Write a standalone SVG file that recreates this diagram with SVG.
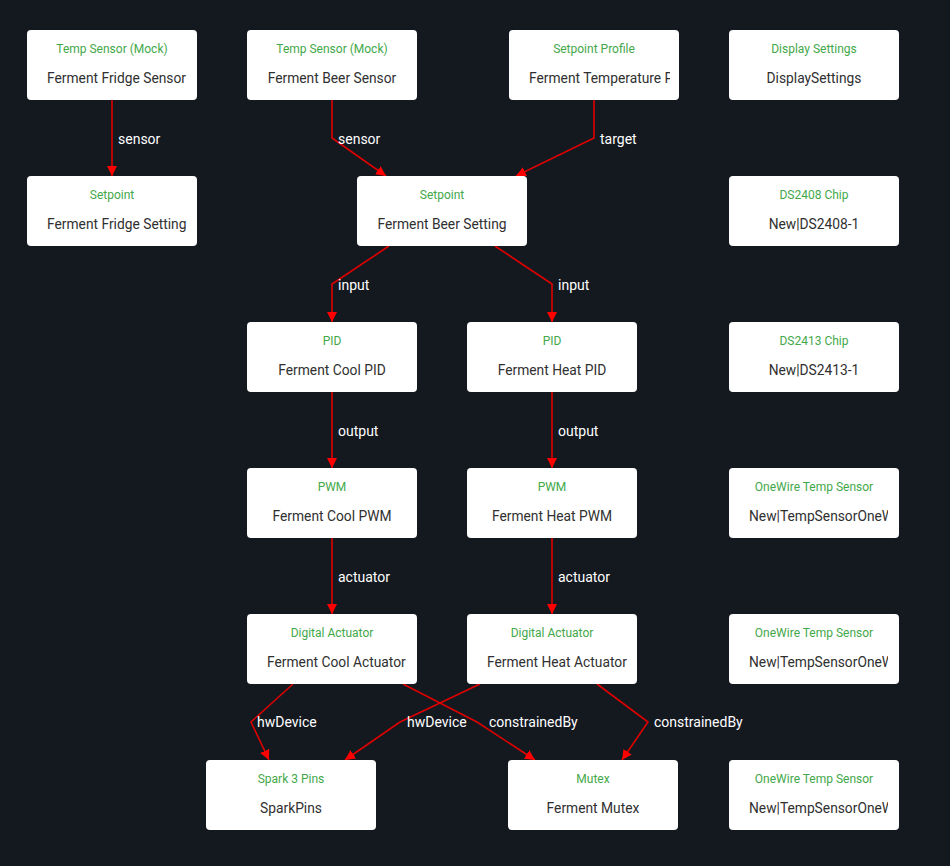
<svg xmlns="http://www.w3.org/2000/svg" width="950" height="866" viewBox="0 0 950 866">
<style>
.bg{fill:#14181f}
.box{fill:#ffffff}
.title{font-family:Roboto,"Liberation Sans",sans-serif;font-size:12px;fill:#43a84a;text-anchor:middle}
.name{font-family:Roboto,"Liberation Sans",sans-serif;font-size:13.8px;fill:#303030}
.c{text-anchor:middle}
.edge{fill:none;stroke:#dd0000;stroke-width:1.6}
.lbl{font-family:Roboto,"Liberation Sans",sans-serif;font-size:14px;fill:#ffffff}
</style>
<defs>
<marker id="arr" viewBox="0 0 10 10" refX="10" refY="5" markerWidth="10" markerHeight="10" markerUnits="userSpaceOnUse" orient="auto">
<path d="M0,0 L10,5 L0,10 z" fill="#ff0000"/>
</marker>
<clipPath id="clipProfile"><rect x="519" y="60" width="151" height="40"/></clipPath>
<clipPath id="clipOw1"><rect x="739" y="498" width="149" height="40"/></clipPath>
<clipPath id="clipOw2"><rect x="739" y="644" width="149" height="40"/></clipPath>
<clipPath id="clipOw3"><rect x="739" y="790" width="149" height="40"/></clipPath>
</defs>
<rect class="bg" x="0" y="0" width="950" height="866"/>

<g id="connectors">
<polyline class="edge" marker-end="url(#arr)" points="112,100 112,176"/>
<polyline class="edge" marker-end="url(#arr)" points="332,100 332,138 386,176"/>
<polyline class="edge" marker-end="url(#arr)" points="594,100 594,138 516,176"/>
<polyline class="edge" marker-end="url(#arr)" points="389,246 332,284 332,322"/>
<polyline class="edge" marker-end="url(#arr)" points="495,246 552,284 552,322"/>
<polyline class="edge" marker-end="url(#arr)" points="332,392 332,468"/>
<polyline class="edge" marker-end="url(#arr)" points="552,392 552,468"/>
<polyline class="edge" marker-end="url(#arr)" points="332,538 332,614"/>
<polyline class="edge" marker-end="url(#arr)" points="552,538 552,614"/>
<polyline class="edge" marker-end="url(#arr)" points="293,684 251,722 269,760"/>
<polyline class="edge" marker-end="url(#arr)" points="403,684 477,722 535,760"/>
<polyline class="edge" marker-end="url(#arr)" points="480,684 400,722 345,760"/>
<polyline class="edge" marker-end="url(#arr)" points="597,684 648,722 622,760"/>
<text class="lbl" x="118" y="144">sensor</text>
<text class="lbl" x="338" y="144">sensor</text>
<text class="lbl" x="600" y="144">target</text>
<text class="lbl" x="338" y="290">input</text>
<text class="lbl" x="558" y="290">input</text>
<text class="lbl" x="338" y="436">output</text>
<text class="lbl" x="558" y="436">output</text>
<text class="lbl" x="338" y="582">actuator</text>
<text class="lbl" x="558" y="582">actuator</text>
<text class="lbl" x="257" y="727">hwDevice</text>
<text class="lbl" x="407" y="727">hwDevice</text>
<text class="lbl" x="489" y="727">constrainedBy</text>
<text class="lbl" x="654" y="727">constrainedBy</text>
</g>

<g id="n-fridge-sensor"><rect class="box" x="27" y="30" width="170" height="70" rx="4"/><text class="title" x="112" y="53">Temp Sensor (Mock)</text><text class="name" x="47" y="83">Ferment Fridge Sensor</text></g>
<g id="n-beer-sensor"><rect class="box" x="247" y="30" width="170" height="70" rx="4"/><text class="title" x="332" y="53">Temp Sensor (Mock)</text><text class="name c" x="332" y="83">Ferment Beer Sensor</text></g>
<g id="n-profile"><rect class="box" x="509" y="30" width="170" height="70" rx="4"/><text class="title" x="594" y="53">Setpoint Profile</text><text class="name" x="529" y="83" clip-path="url(#clipProfile)">Ferment Temperature P</text></g>
<g id="n-display"><rect class="box" x="729" y="30" width="170" height="70" rx="4"/><text class="title" x="814" y="53">Display Settings</text><text class="name c" x="814" y="83">DisplaySettings</text></g>

<g id="n-fridge-setting"><rect class="box" x="27" y="176" width="170" height="70" rx="4"/><text class="title" x="112" y="199">Setpoint</text><text class="name" x="47" y="229">Ferment Fridge Setting</text></g>
<g id="n-beer-setting"><rect class="box" x="357" y="176" width="170" height="70" rx="4"/><text class="title" x="442" y="199">Setpoint</text><text class="name c" x="442" y="229">Ferment Beer Setting</text></g>
<g id="n-ds2408"><rect class="box" x="729" y="176" width="170" height="70" rx="4"/><text class="title" x="814" y="199">DS2408 Chip</text><text class="name c" x="814" y="229">New|DS2408-1</text></g>

<g id="n-cool-pid"><rect class="box" x="247" y="322" width="170" height="70" rx="4"/><text class="title" x="332" y="345">PID</text><text class="name c" x="332" y="375">Ferment Cool PID</text></g>
<g id="n-heat-pid"><rect class="box" x="467" y="322" width="170" height="70" rx="4"/><text class="title" x="552" y="345">PID</text><text class="name c" x="552" y="375">Ferment Heat PID</text></g>
<g id="n-ds2413"><rect class="box" x="729" y="322" width="170" height="70" rx="4"/><text class="title" x="814" y="345">DS2413 Chip</text><text class="name c" x="814" y="375">New|DS2413-1</text></g>

<g id="n-cool-pwm"><rect class="box" x="247" y="468" width="170" height="70" rx="4"/><text class="title" x="332" y="491">PWM</text><text class="name c" x="332" y="521">Ferment Cool PWM</text></g>
<g id="n-heat-pwm"><rect class="box" x="467" y="468" width="170" height="70" rx="4"/><text class="title" x="552" y="491">PWM</text><text class="name c" x="552" y="521">Ferment Heat PWM</text></g>
<g id="n-onewire-1"><rect class="box" x="729" y="468" width="170" height="70" rx="4"/><text class="title" x="814" y="491">OneWire Temp Sensor</text><text class="name" x="749" y="521" clip-path="url(#clipOw1)">New|TempSensorOneW</text></g>

<g id="n-cool-actuator"><rect class="box" x="247" y="614" width="170" height="70" rx="4"/><text class="title" x="332" y="637">Digital Actuator</text><text class="name" x="267" y="667">Ferment Cool Actuator</text></g>
<g id="n-heat-actuator"><rect class="box" x="467" y="614" width="170" height="70" rx="4"/><text class="title" x="552" y="637">Digital Actuator</text><text class="name" x="487" y="667">Ferment Heat Actuator</text></g>
<g id="n-onewire-2"><rect class="box" x="729" y="614" width="170" height="70" rx="4"/><text class="title" x="814" y="637">OneWire Temp Sensor</text><text class="name" x="749" y="667" clip-path="url(#clipOw2)">New|TempSensorOneW</text></g>

<g id="n-sparkpins"><rect class="box" x="206" y="760" width="170" height="70" rx="4"/><text class="title" x="291" y="783">Spark 3 Pins</text><text class="name c" x="291" y="813">SparkPins</text></g>
<g id="n-mutex"><rect class="box" x="508" y="760" width="170" height="70" rx="4"/><text class="title" x="593" y="783">Mutex</text><text class="name c" x="593" y="813">Ferment Mutex</text></g>
<g id="n-onewire-3"><rect class="box" x="729" y="760" width="170" height="70" rx="4"/><text class="title" x="814" y="783">OneWire Temp Sensor</text><text class="name" x="749" y="813" clip-path="url(#clipOw3)">New|TempSensorOneW</text></g>
</svg>
